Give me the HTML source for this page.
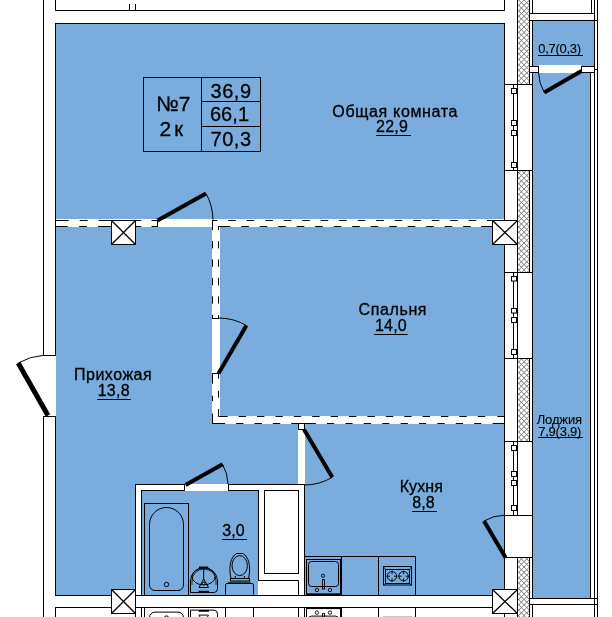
<!DOCTYPE html>
<html><head><meta charset="utf-8">
<style>
html,body{margin:0;padding:0;background:#fff;}
body{width:612px;height:617px;overflow:hidden;position:relative;font-family:"Liberation Sans",sans-serif;}
svg{position:absolute;left:0;top:0;will-change:transform;} text{font-family:"Liberation Sans",sans-serif;fill:#000;stroke:#000;}

</style></head><body>
<svg width="612" height="617" viewBox="0 0 612 617" shape-rendering="auto">
<rect x="0" y="0" width="612" height="617" fill="#fff"/>
<rect x="55.5" y="23.5" width="449" height="572" fill="#7aadde" stroke="#000" stroke-width="1"/>
<rect x="532.5" y="20.5" width="62" height="46" fill="#7aadde" stroke="#000" stroke-width="1"/>
<rect x="532.5" y="72.5" width="58" height="526" fill="#7aadde" stroke="#000" stroke-width="1"/>
<rect x="44" y="356" width="12" height="60" fill="#fff"/>
<clipPath id="hc"><rect x="517.5" y="0" width="12" height="84"/><rect x="517.5" y="170" width="12" height="102"/><rect x="517.5" y="358" width="12" height="83"/><rect x="517.5" y="558" width="12" height="59"/></clipPath>
<path clip-path="url(#hc)" d="M517,624.7 L530,637.7 M517,619.3 L530,632.3 M517,613.9 L530,626.9 M517,608.5 L530,621.5 M517,603.1 L530,616.1 M517,597.7 L530,610.7 M517,592.3 L530,605.3 M517,586.9 L530,599.9 M517,581.5 L530,594.5 M517,576.1 L530,589.1 M517,570.7 L530,583.7 M517,565.3 L530,578.3 M517,559.9 L530,572.9 M517,554.5 L530,567.5 M517,549.1 L530,562.1 M517,543.7 L530,556.7 M517,538.3 L530,551.3 M517,532.9 L530,545.9 M517,527.5 L530,540.5 M517,522.1 L530,535.1 M517,516.7 L530,529.7 M517,511.3 L530,524.3 M517,505.9 L530,518.9 M517,500.5 L530,513.5 M517,495.1 L530,508.1 M517,489.7 L530,502.7 M517,484.3 L530,497.3 M517,478.9 L530,491.9 M517,473.5 L530,486.5 M517,468.1 L530,481.1 M517,462.7 L530,475.7 M517,457.3 L530,470.3 M517,451.9 L530,464.9 M517,446.5 L530,459.5 M517,441.1 L530,454.1 M517,435.7 L530,448.7 M517,430.3 L530,443.3 M517,424.9 L530,437.9 M517,419.5 L530,432.5 M517,414.1 L530,427.1 M517,408.7 L530,421.7 M517,403.3 L530,416.3 M517,397.9 L530,410.9 M517,392.5 L530,405.5 M517,387.09999999999997 L530,400.09999999999997 M517,381.7 L530,394.7 M517,376.29999999999995 L530,389.29999999999995 M517,370.9 L530,383.9 M517,365.5 L530,378.5 M517,360.09999999999997 L530,373.09999999999997 M517,354.7 L530,367.7 M517,349.29999999999995 L530,362.29999999999995 M517,343.9 L530,356.9 M517,338.5 L530,351.5 M517,333.09999999999997 L530,346.09999999999997 M517,327.7 L530,340.7 M517,322.29999999999995 L530,335.29999999999995 M517,316.9 L530,329.9 M517,311.5 L530,324.5 M517,306.09999999999997 L530,319.09999999999997 M517,300.7 L530,313.7 M517,295.29999999999995 L530,308.29999999999995 M517,289.9 L530,302.9 M517,284.5 L530,297.5 M517,279.09999999999997 L530,292.09999999999997 M517,273.69999999999993 L530,286.69999999999993 M517,268.29999999999995 L530,281.29999999999995 M517,262.9 L530,275.9 M517,257.49999999999994 L530,270.49999999999994 M517,252.09999999999997 L530,265.09999999999997 M517,246.7 L530,259.7 M517,241.29999999999995 L530,254.29999999999995 M517,235.89999999999998 L530,248.89999999999998 M517,230.49999999999994 L530,243.49999999999994 M517,225.09999999999997 L530,238.09999999999997 M517,219.7 L530,232.7 M517,214.29999999999995 L530,227.29999999999995 M517,208.89999999999998 L530,221.89999999999998 M517,203.49999999999994 L530,216.49999999999994 M517,198.09999999999997 L530,211.09999999999997 M517,192.7 L530,205.7 M517,187.29999999999995 L530,200.29999999999995 M517,181.89999999999998 L530,194.89999999999998 M517,176.49999999999994 L530,189.49999999999994 M517,171.09999999999997 L530,184.09999999999997 M517,165.7 L530,178.7 M517,160.29999999999995 L530,173.29999999999995 M517,154.89999999999998 L530,167.89999999999998 M517,149.49999999999994 L530,162.49999999999994 M517,144.09999999999997 L530,157.09999999999997 M517,138.7 L530,151.7 M517,133.29999999999995 L530,146.29999999999995 M517,127.89999999999998 L530,140.89999999999998 M517,122.49999999999994 L530,135.49999999999994 M517,117.09999999999997 L530,130.09999999999997 M517,111.69999999999999 L530,124.69999999999999 M517,106.29999999999995 L530,119.29999999999995 M517,100.89999999999998 L530,113.89999999999998 M517,95.49999999999994 L530,108.49999999999994 M517,90.09999999999997 L530,103.09999999999997 M517,84.69999999999999 L530,97.69999999999999 M517,79.29999999999995 L530,92.29999999999995 M517,73.89999999999998 L530,86.89999999999998 M517,68.49999999999994 L530,81.49999999999994 M517,63.099999999999966 L530,76.09999999999997 M517,57.69999999999993 L530,70.69999999999993 M517,52.299999999999955 L530,65.29999999999995 M517,46.89999999999998 L530,59.89999999999998 M517,41.49999999999994 L530,54.49999999999994 M517,36.099999999999966 L530,49.099999999999966 M517,30.699999999999932 L530,43.69999999999993 M517,25.299999999999955 L530,38.299999999999955 M517,19.899999999999977 L530,32.89999999999998 M517,14.499999999999943 L530,27.499999999999943 M517,9.099999999999966 L530,22.099999999999966 M517,3.7000000000000455 L530,16.700000000000045 M517,-1.7000000000000455 L530,11.299999999999955 M517,-7.100000000000023 L530,5.899999999999977 M517,-12.5 L530,0.5 M517,-17.899999999999977 L530,-4.899999999999977 M517,-9.099999999999966 L530,-22.099999999999966 M517,-3.7000000000000455 L530,-16.700000000000045 M517,1.7000000000000455 L530,-11.299999999999955 M517,7.100000000000023 L530,-5.899999999999977 M517,12.5 L530,-0.5 M517,17.899999999999977 L530,4.899999999999977 M517,23.299999999999955 L530,10.299999999999955 M517,28.700000000000045 L530,15.700000000000045 M517,34.10000000000002 L530,21.100000000000023 M517,39.5 L530,26.5 M517,44.89999999999998 L530,31.899999999999977 M517,50.299999999999955 L530,37.299999999999955 M517,55.700000000000045 L530,42.700000000000045 M517,61.10000000000002 L530,48.10000000000002 M517,66.5 L530,53.5 M517,71.89999999999998 L530,58.89999999999998 M517,77.29999999999995 L530,64.29999999999995 M517,82.70000000000005 L530,69.70000000000005 M517,88.10000000000002 L530,75.10000000000002 M517,93.5 L530,80.5 M517,98.89999999999998 L530,85.89999999999998 M517,104.29999999999995 L530,91.29999999999995 M517,109.70000000000005 L530,96.70000000000005 M517,115.10000000000002 L530,102.10000000000002 M517,120.5 L530,107.5 M517,125.89999999999998 L530,112.89999999999998 M517,131.29999999999995 L530,118.29999999999995 M517,136.70000000000005 L530,123.70000000000005 M517,142.10000000000002 L530,129.10000000000002 M517,147.5 L530,134.5 M517,152.89999999999998 L530,139.89999999999998 M517,158.29999999999995 L530,145.29999999999995 M517,163.70000000000005 L530,150.70000000000005 M517,169.10000000000002 L530,156.10000000000002 M517,174.5 L530,161.5 M517,179.89999999999998 L530,166.89999999999998 M517,185.29999999999995 L530,172.29999999999995 M517,190.70000000000005 L530,177.70000000000005 M517,196.10000000000002 L530,183.10000000000002 M517,201.5 L530,188.5 M517,206.89999999999998 L530,193.89999999999998 M517,212.29999999999995 L530,199.29999999999995 M517,217.70000000000005 L530,204.70000000000005 M517,223.10000000000002 L530,210.10000000000002 M517,228.5 L530,215.5 M517,233.89999999999998 L530,220.89999999999998 M517,239.29999999999995 L530,226.29999999999995 M517,244.70000000000005 L530,231.70000000000005 M517,250.10000000000002 L530,237.10000000000002 M517,255.5 L530,242.5 M517,260.9 L530,247.89999999999998 M517,266.29999999999995 L530,253.29999999999995 M517,271.70000000000005 L530,258.70000000000005 M517,277.1 L530,264.1 M517,282.5 L530,269.5 M517,287.9 L530,274.9 M517,293.29999999999995 L530,280.29999999999995 M517,298.70000000000005 L530,285.70000000000005 M517,304.1 L530,291.1 M517,309.5 L530,296.5 M517,314.9 L530,301.9 M517,320.29999999999995 L530,307.29999999999995 M517,325.70000000000005 L530,312.70000000000005 M517,331.1 L530,318.1 M517,336.5 L530,323.5 M517,341.9 L530,328.9 M517,347.29999999999995 L530,334.29999999999995 M517,352.70000000000005 L530,339.70000000000005 M517,358.1 L530,345.1 M517,363.5 L530,350.5 M517,368.9 L530,355.9 M517,374.30000000000007 L530,361.30000000000007 M517,379.70000000000005 L530,366.70000000000005 M517,385.1 L530,372.1 M517,390.5 L530,377.5 M517,395.9 L530,382.9 M517,401.30000000000007 L530,388.30000000000007 M517,406.70000000000005 L530,393.70000000000005 M517,412.1 L530,399.1 M517,417.5 L530,404.5 M517,422.9 L530,409.9 M517,428.30000000000007 L530,415.30000000000007 M517,433.70000000000005 L530,420.70000000000005 M517,439.1 L530,426.1 M517,444.5 L530,431.5 M517,449.9 L530,436.9 M517,455.30000000000007 L530,442.30000000000007 M517,460.70000000000005 L530,447.70000000000005 M517,466.1 L530,453.1 M517,471.5 L530,458.5 M517,476.9 L530,463.9 M517,482.30000000000007 L530,469.30000000000007 M517,487.70000000000005 L530,474.70000000000005 M517,493.1 L530,480.1 M517,498.5 L530,485.5 M517,503.9 L530,490.9 M517,509.29999999999995 L530,496.29999999999995 M517,514.7 L530,501.70000000000005 M517,520.1000000000001 L530,507.10000000000014 M517,525.5 L530,512.5 M517,530.9000000000001 L530,517.9000000000001 M517,536.3 L530,523.3 M517,541.7 L530,528.7 M517,547.1000000000001 L530,534.1000000000001 M517,552.5 L530,539.5 M517,557.9000000000001 L530,544.9000000000001 M517,563.3 L530,550.3 M517,568.7 L530,555.7 M517,574.1000000000001 L530,561.1000000000001 M517,579.5 L530,566.5 M517,584.9000000000001 L530,571.9000000000001 M517,590.3 L530,577.3 M517,595.7 L530,582.7 M517,601.1000000000001 L530,588.1000000000001 M517,606.5 L530,593.5 M517,611.9000000000001 L530,598.9000000000001 M517,617.3 L530,604.3 M517,622.7 L530,609.7 M517,628.1000000000001 L530,615.1000000000001 M517,633.5 L530,620.5 M517,638.9000000000001 L530,625.9000000000001" stroke="#7a7a7a" stroke-width="1" fill="none"/>
<line x1="517.5" y1="0" x2="517.5" y2="84" stroke="#000" stroke-width="1" />
<line x1="529.5" y1="0" x2="529.5" y2="84" stroke="#000" stroke-width="1" />
<line x1="517.5" y1="170" x2="517.5" y2="272" stroke="#000" stroke-width="1" />
<line x1="529.5" y1="170" x2="529.5" y2="272" stroke="#000" stroke-width="1" />
<line x1="517.5" y1="358" x2="517.5" y2="441" stroke="#000" stroke-width="1" />
<line x1="529.5" y1="358" x2="529.5" y2="441" stroke="#000" stroke-width="1" />
<line x1="517.5" y1="558" x2="517.5" y2="617" stroke="#000" stroke-width="1" />
<line x1="529.5" y1="558" x2="529.5" y2="617" stroke="#000" stroke-width="1" />
<polyline points="55.5,0 55.5,10.5 504.5,10.5 504.5,0" fill="none" stroke="#000" stroke-width="1"/>
<line x1="129.5" y1="4" x2="129.5" y2="10.5" stroke="#000" stroke-width="1" />
<line x1="135.5" y1="4" x2="135.5" y2="10.5" stroke="#000" stroke-width="1" />
<line x1="43.5" y1="0" x2="43.5" y2="355.5" stroke="#000" stroke-width="1" />
<line x1="43.5" y1="416" x2="43.5" y2="617" stroke="#000" stroke-width="1" />
<line x1="55.5" y1="0" x2="55.5" y2="10.5" stroke="#000" stroke-width="1" />
<line x1="55.5" y1="416" x2="55.5" y2="595.5" stroke="#000" stroke-width="1" />
<line x1="55.5" y1="607.5" x2="55.5" y2="617" stroke="#000" stroke-width="1" />
<rect x="44" y="356" width="11" height="60" fill="#fff"/>
<line x1="43" y1="355.5" x2="56" y2="355.5" stroke="#000" stroke-width="1" />
<line x1="43" y1="416.5" x2="56" y2="416.5" stroke="#000" stroke-width="1" />
<line x1="55.5" y1="23" x2="55.5" y2="355.5" stroke="#000" stroke-width="1" />
<line x1="504.5" y1="0" x2="504.5" y2="10.5" stroke="#000" stroke-width="1" />
<line x1="532.5" y1="0" x2="532.5" y2="13.5" stroke="#000" stroke-width="1" />
<line x1="529.5" y1="0" x2="529.5" y2="13.5" stroke="#000" stroke-width="1" />
<line x1="591.5" y1="0" x2="591.5" y2="13.5" stroke="#000" stroke-width="1" />
<line x1="594.5" y1="0" x2="594.5" y2="66" stroke="#000" stroke-width="1" />
<line x1="597.5" y1="0" x2="597.5" y2="617" stroke="#000" stroke-width="1" />
<line x1="529.5" y1="13.5" x2="594.5" y2="13.5" stroke="#000" stroke-width="1" />
<line x1="529.5" y1="20.5" x2="597.5" y2="20.5" stroke="#000" stroke-width="1" />
<line x1="594.5" y1="72" x2="594.5" y2="617" stroke="#000" stroke-width="1" />
<rect x="538.5" y="65" width="43" height="8" fill="#fff"/>
<rect x="529.5" y="66.5" width="9" height="6" fill="#fff" stroke="#000" stroke-width="1" />
<rect x="581.5" y="66.5" width="13" height="6" fill="#fff" stroke="#000" stroke-width="1" />
<line x1="594.5" y1="69.5" x2="597.5" y2="69.5" stroke="#000" stroke-width="1" />
<line x1="581.5" y1="71" x2="544.2" y2="92.4" stroke="#000" stroke-width="4" stroke-linecap="butt"/>
<path d="M544.2,92.4 A43.00,43.00 0 0 1 538.52,72.51" fill="none" stroke="#000" stroke-width="1"/>
<rect x="504.5" y="84.5" width="28" height="86.0" fill="#fff" stroke="#000" stroke-width="1" />
<line x1="513.5" y1="84.5" x2="513.5" y2="170.5" stroke="#000" stroke-width="1" />
<line x1="517.5" y1="84.5" x2="517.5" y2="170.5" stroke="#000" stroke-width="1" />
<rect x="511.5" y="88.5" width="5" height="5.0" fill="#fff" stroke="#000" stroke-width="1" />
<rect x="511.5" y="120.5" width="5" height="5.0" fill="#fff" stroke="#000" stroke-width="1" />
<rect x="511.5" y="130.5" width="5" height="5.0" fill="#fff" stroke="#000" stroke-width="1" />
<rect x="511.5" y="162.5" width="5" height="5.0" fill="#fff" stroke="#000" stroke-width="1" />
<rect x="504.5" y="272.5" width="28" height="86.0" fill="#fff" stroke="#000" stroke-width="1" />
<line x1="513.5" y1="272.5" x2="513.5" y2="358.5" stroke="#000" stroke-width="1" />
<line x1="517.5" y1="272.5" x2="517.5" y2="358.5" stroke="#000" stroke-width="1" />
<rect x="511.5" y="276.5" width="5" height="4.5" fill="#fff" stroke="#000" stroke-width="1" />
<rect x="511.5" y="308.5" width="5" height="4.5" fill="#fff" stroke="#000" stroke-width="1" />
<rect x="511.5" y="317.5" width="5" height="5.0" fill="#fff" stroke="#000" stroke-width="1" />
<rect x="511.5" y="349.5" width="5" height="5.0" fill="#fff" stroke="#000" stroke-width="1" />
<rect x="504.5" y="441.5" width="28" height="74.0" fill="#fff" stroke="#000" stroke-width="1" />
<line x1="513.5" y1="441.5" x2="513.5" y2="515.5" stroke="#000" stroke-width="1" />
<line x1="517.5" y1="441.5" x2="517.5" y2="515.5" stroke="#000" stroke-width="1" />
<rect x="511.5" y="445.5" width="5" height="5.0" fill="#fff" stroke="#000" stroke-width="1" />
<rect x="511.5" y="471.5" width="5" height="5.0" fill="#fff" stroke="#000" stroke-width="1" />
<rect x="511.5" y="480.5" width="5" height="5.0" fill="#fff" stroke="#000" stroke-width="1" />
<rect x="511.5" y="505.5" width="5" height="5.0" fill="#fff" stroke="#000" stroke-width="1" />
<rect x="504.5" y="515.5" width="28" height="42" fill="#fff" stroke="#000" stroke-width="1" />
<line x1="505.5" y1="557.5" x2="484" y2="521" stroke="#000" stroke-width="4" stroke-linecap="butt"/>
<path d="M484,521 A42.36,42.36 0 0 1 504.49,515.15" fill="none" stroke="#000" stroke-width="1"/>
<rect x="529.5" y="598.5" width="65" height="6" fill="#fff" stroke="#000" stroke-width="1"/>
<line x1="594.5" y1="598.5" x2="597.5" y2="598.5" stroke="#000" stroke-width="1" />
<line x1="594.5" y1="604.5" x2="597.5" y2="604.5" stroke="#000" stroke-width="1" />
<line x1="532.5" y1="604.5" x2="532.5" y2="617" stroke="#000" stroke-width="1" />
<rect x="56" y="219" width="448" height="8" fill="#fff"/>
<rect x="212" y="219" width="8" height="205" fill="#fff"/>
<rect x="212" y="416" width="292" height="8" fill="#fff"/>
<line x1="55.5" y1="220.5" x2="68.7" y2="220.5" stroke="#000" stroke-width="1" />
<line x1="79.7" y1="220.5" x2="87.6" y2="220.5" stroke="#000" stroke-width="1" />
<line x1="98.5" y1="220.5" x2="111" y2="220.5" stroke="#000" stroke-width="1" />
<line x1="55.5" y1="226.5" x2="67.7" y2="226.5" stroke="#000" stroke-width="1" />
<line x1="79.2" y1="226.5" x2="87" y2="226.5" stroke="#000" stroke-width="1" />
<line x1="98" y1="226.5" x2="111" y2="226.5" stroke="#000" stroke-width="1" />
<line x1="135.5" y1="220.5" x2="141.3" y2="220.5" stroke="#000" stroke-width="1" />
<line x1="151.5" y1="220.5" x2="158" y2="220.5" stroke="#000" stroke-width="1" />
<line x1="135.5" y1="226.5" x2="141.3" y2="226.5" stroke="#000" stroke-width="1" />
<line x1="151.5" y1="226.5" x2="158" y2="226.5" stroke="#000" stroke-width="1" />
<line x1="157.5" y1="220" x2="157.5" y2="227" stroke="#000" stroke-width="1" />
<line x1="212" y1="220.5" x2="217" y2="220.5" stroke="#000" stroke-width="1" />
<line x1="212" y1="220.5" x2="217.29999999999998" y2="220.5" stroke="#000" stroke-width="1" />
<line x1="228.2" y1="220.5" x2="235.79999999999998" y2="220.5" stroke="#000" stroke-width="1" />
<line x1="246.7" y1="220.5" x2="254.29999999999998" y2="220.5" stroke="#000" stroke-width="1" />
<line x1="265.2" y1="220.5" x2="272.8" y2="220.5" stroke="#000" stroke-width="1" />
<line x1="283.7" y1="220.5" x2="291.3" y2="220.5" stroke="#000" stroke-width="1" />
<line x1="302.2" y1="220.5" x2="309.8" y2="220.5" stroke="#000" stroke-width="1" />
<line x1="320.7" y1="220.5" x2="328.3" y2="220.5" stroke="#000" stroke-width="1" />
<line x1="339.2" y1="220.5" x2="346.8" y2="220.5" stroke="#000" stroke-width="1" />
<line x1="357.7" y1="220.5" x2="365.3" y2="220.5" stroke="#000" stroke-width="1" />
<line x1="376.2" y1="220.5" x2="383.8" y2="220.5" stroke="#000" stroke-width="1" />
<line x1="394.7" y1="220.5" x2="402.3" y2="220.5" stroke="#000" stroke-width="1" />
<line x1="413.2" y1="220.5" x2="420.8" y2="220.5" stroke="#000" stroke-width="1" />
<line x1="431.7" y1="220.5" x2="439.3" y2="220.5" stroke="#000" stroke-width="1" />
<line x1="450.2" y1="220.5" x2="457.8" y2="220.5" stroke="#000" stroke-width="1" />
<line x1="468.7" y1="220.5" x2="476.3" y2="220.5" stroke="#000" stroke-width="1" />
<line x1="487" y1="220.5" x2="493" y2="220.5" stroke="#000" stroke-width="1" />
<line x1="218.5" y1="226.5" x2="229.7" y2="226.5" stroke="#000" stroke-width="1" />
<line x1="222.7" y1="226.5" x2="230.29999999999998" y2="226.5" stroke="#000" stroke-width="1" />
<line x1="241.2" y1="226.5" x2="248.79999999999998" y2="226.5" stroke="#000" stroke-width="1" />
<line x1="259.7" y1="226.5" x2="267.3" y2="226.5" stroke="#000" stroke-width="1" />
<line x1="278.2" y1="226.5" x2="285.8" y2="226.5" stroke="#000" stroke-width="1" />
<line x1="296.7" y1="226.5" x2="304.3" y2="226.5" stroke="#000" stroke-width="1" />
<line x1="315.2" y1="226.5" x2="322.8" y2="226.5" stroke="#000" stroke-width="1" />
<line x1="333.7" y1="226.5" x2="341.3" y2="226.5" stroke="#000" stroke-width="1" />
<line x1="352.2" y1="226.5" x2="359.8" y2="226.5" stroke="#000" stroke-width="1" />
<line x1="370.7" y1="226.5" x2="378.3" y2="226.5" stroke="#000" stroke-width="1" />
<line x1="389.2" y1="226.5" x2="396.8" y2="226.5" stroke="#000" stroke-width="1" />
<line x1="407.7" y1="226.5" x2="415.3" y2="226.5" stroke="#000" stroke-width="1" />
<line x1="426.2" y1="226.5" x2="433.8" y2="226.5" stroke="#000" stroke-width="1" />
<line x1="444.7" y1="226.5" x2="452.3" y2="226.5" stroke="#000" stroke-width="1" />
<line x1="463.2" y1="226.5" x2="470.8" y2="226.5" stroke="#000" stroke-width="1" />
<line x1="481" y1="226.5" x2="493" y2="226.5" stroke="#000" stroke-width="1" />
<line x1="212.5" y1="220" x2="212.5" y2="229.5" stroke="#000" stroke-width="1" />
<line x1="212.5" y1="222.7" x2="212.5" y2="230.0" stroke="#000" stroke-width="1" />
<line x1="212.5" y1="241.1" x2="212.5" y2="248.4" stroke="#000" stroke-width="1" />
<line x1="212.5" y1="259.5" x2="212.5" y2="266.8" stroke="#000" stroke-width="1" />
<line x1="212.5" y1="277.9" x2="212.5" y2="285.2" stroke="#000" stroke-width="1" />
<line x1="212.5" y1="296.3" x2="212.5" y2="303.6" stroke="#000" stroke-width="1" />
<line x1="212.5" y1="315" x2="212.5" y2="318.5" stroke="#000" stroke-width="1" />
<line x1="218.5" y1="226.5" x2="218.5" y2="229.6" stroke="#000" stroke-width="1" />
<line x1="218.5" y1="226.5" x2="218.5" y2="230.0" stroke="#000" stroke-width="1" />
<line x1="218.5" y1="241.1" x2="218.5" y2="248.4" stroke="#000" stroke-width="1" />
<line x1="218.5" y1="259.5" x2="218.5" y2="266.8" stroke="#000" stroke-width="1" />
<line x1="218.5" y1="277.9" x2="218.5" y2="285.2" stroke="#000" stroke-width="1" />
<line x1="218.5" y1="296.3" x2="218.5" y2="303.6" stroke="#000" stroke-width="1" />
<line x1="218.5" y1="315" x2="218.5" y2="318.5" stroke="#000" stroke-width="1" />
<line x1="212" y1="318.5" x2="219" y2="318.5" stroke="#000" stroke-width="1" />
<line x1="212" y1="373.5" x2="219" y2="373.5" stroke="#000" stroke-width="1" />
<line x1="212.5" y1="373.5" x2="212.5" y2="383.6" stroke="#000" stroke-width="1" />
<line x1="212.5" y1="395.7" x2="212.5" y2="401.1" stroke="#000" stroke-width="1" />
<line x1="212.5" y1="413.7" x2="212.5" y2="424" stroke="#000" stroke-width="1" />
<line x1="218.5" y1="373.5" x2="218.5" y2="378.7" stroke="#000" stroke-width="1" />
<line x1="218.5" y1="390.9" x2="218.5" y2="397.7" stroke="#000" stroke-width="1" />
<line x1="218.5" y1="408.9" x2="218.5" y2="416.5" stroke="#000" stroke-width="1" />
<line x1="218.5" y1="416.5" x2="226.6" y2="416.5" stroke="#000" stroke-width="1" />
<line x1="220.2" y1="416.5" x2="227.6" y2="416.5" stroke="#000" stroke-width="1" />
<line x1="238.6" y1="416.5" x2="246.0" y2="416.5" stroke="#000" stroke-width="1" />
<line x1="257.0" y1="416.5" x2="264.4" y2="416.5" stroke="#000" stroke-width="1" />
<line x1="275.4" y1="416.5" x2="282.79999999999995" y2="416.5" stroke="#000" stroke-width="1" />
<line x1="293.8" y1="416.5" x2="301.2" y2="416.5" stroke="#000" stroke-width="1" />
<line x1="312.2" y1="416.5" x2="319.59999999999997" y2="416.5" stroke="#000" stroke-width="1" />
<line x1="330.6" y1="416.5" x2="338.0" y2="416.5" stroke="#000" stroke-width="1" />
<line x1="349.0" y1="416.5" x2="356.4" y2="416.5" stroke="#000" stroke-width="1" />
<line x1="367.4" y1="416.5" x2="374.79999999999995" y2="416.5" stroke="#000" stroke-width="1" />
<line x1="385.79999999999995" y1="416.5" x2="393.19999999999993" y2="416.5" stroke="#000" stroke-width="1" />
<line x1="404.2" y1="416.5" x2="411.59999999999997" y2="416.5" stroke="#000" stroke-width="1" />
<line x1="422.6" y1="416.5" x2="430.0" y2="416.5" stroke="#000" stroke-width="1" />
<line x1="441.0" y1="416.5" x2="448.4" y2="416.5" stroke="#000" stroke-width="1" />
<line x1="459.4" y1="416.5" x2="466.79999999999995" y2="416.5" stroke="#000" stroke-width="1" />
<line x1="477.79999999999995" y1="416.5" x2="485.19999999999993" y2="416.5" stroke="#000" stroke-width="1" />
<line x1="497.3" y1="416.5" x2="504" y2="416.5" stroke="#000" stroke-width="1" />
<line x1="212" y1="423.5" x2="224.7" y2="423.5" stroke="#000" stroke-width="1" />
<line x1="217.7" y1="423.5" x2="225.1" y2="423.5" stroke="#000" stroke-width="1" />
<line x1="236.1" y1="423.5" x2="243.5" y2="423.5" stroke="#000" stroke-width="1" />
<line x1="254.5" y1="423.5" x2="261.9" y2="423.5" stroke="#000" stroke-width="1" />
<line x1="272.9" y1="423.5" x2="280.29999999999995" y2="423.5" stroke="#000" stroke-width="1" />
<line x1="291.3" y1="423.5" x2="298.5" y2="423.5" stroke="#000" stroke-width="1" />
<line x1="304.5" y1="423.5" x2="315.5" y2="423.5" stroke="#000" stroke-width="1" />
<line x1="308.6" y1="423.5" x2="315.8" y2="423.5" stroke="#000" stroke-width="1" />
<line x1="327.0" y1="423.5" x2="334.2" y2="423.5" stroke="#000" stroke-width="1" />
<line x1="345.4" y1="423.5" x2="352.59999999999997" y2="423.5" stroke="#000" stroke-width="1" />
<line x1="363.8" y1="423.5" x2="371.0" y2="423.5" stroke="#000" stroke-width="1" />
<line x1="382.2" y1="423.5" x2="389.4" y2="423.5" stroke="#000" stroke-width="1" />
<line x1="400.6" y1="423.5" x2="407.8" y2="423.5" stroke="#000" stroke-width="1" />
<line x1="419.0" y1="423.5" x2="426.2" y2="423.5" stroke="#000" stroke-width="1" />
<line x1="437.4" y1="423.5" x2="444.59999999999997" y2="423.5" stroke="#000" stroke-width="1" />
<line x1="455.79999999999995" y1="423.5" x2="462.99999999999994" y2="423.5" stroke="#000" stroke-width="1" />
<line x1="474.2" y1="423.5" x2="481.4" y2="423.5" stroke="#000" stroke-width="1" />
<line x1="492.6" y1="423.5" x2="504" y2="423.5" stroke="#000" stroke-width="1" />
<rect x="111.5" y="220.5" width="24" height="24" fill="#fff" stroke="#000" stroke-width="1" />
<line x1="111.5" y1="220.5" x2="135.5" y2="244.5" stroke="#000" stroke-width="1.3" />
<line x1="135.5" y1="220.5" x2="111.5" y2="244.5" stroke="#000" stroke-width="1.3" />
<rect x="492.5" y="220.5" width="25" height="24" fill="#fff" stroke="#000" stroke-width="1" />
<line x1="492.5" y1="220.5" x2="517.5" y2="244.5" stroke="#000" stroke-width="1.3" />
<line x1="517.5" y1="220.5" x2="492.5" y2="244.5" stroke="#000" stroke-width="1.3" />
<line x1="48" y1="415.5" x2="18.2" y2="363" stroke="#000" stroke-width="5" stroke-linecap="butt"/>
<path d="M18.2,363 A60.37,60.37 0 0 1 43.5,355.3" fill="none" stroke="#000" stroke-width="1"/>
<line x1="157.5" y1="220.5" x2="206" y2="193.5" stroke="#000" stroke-width="4" stroke-linecap="butt"/>
<path d="M206,193.5 A55.51,55.51 0 0 1 213.0,219.49" fill="none" stroke="#000" stroke-width="1"/>
<line x1="218.5" y1="373.5" x2="246.4" y2="325.5" stroke="#000" stroke-width="4" stroke-linecap="butt"/>
<path d="M246.4,325.5 A55.52,55.52 0 0 0 219.0,317.98" fill="none" stroke="#000" stroke-width="1"/>
<rect x="135.5" y="484.5" width="169" height="111" fill="#fff" stroke="#000" stroke-width="1"/>
<rect x="141.5" y="490.5" width="117" height="105" fill="#7aadde" stroke="#000" stroke-width="1"/>
<rect x="185" y="484" width="43" height="7" fill="#fff"/>
<line x1="184.5" y1="484" x2="184.5" y2="491" stroke="#000" stroke-width="1" />
<line x1="228.5" y1="484" x2="228.5" y2="491" stroke="#000" stroke-width="1" />
<line x1="185.5" y1="485" x2="222.6" y2="464.3" stroke="#000" stroke-width="4" stroke-linecap="butt"/>
<path d="M222.6,464.3 A42.48,42.48 0 0 1 227.97,484.01" fill="none" stroke="#000" stroke-width="1"/>
<rect x="264.5" y="490.5" width="34" height="83" fill="#fff" stroke="#000" stroke-width="1" />
<rect x="258" y="581" width="40" height="14" fill="#fff"/>
<line x1="258" y1="580.5" x2="298.5" y2="580.5" stroke="#000" stroke-width="1" />
<line x1="298.5" y1="580.5" x2="298.5" y2="595.5" stroke="#000" stroke-width="1" />
<rect x="298" y="424" width="7" height="60" fill="#fff"/>
<rect x="298.5" y="423.5" width="6" height="6" fill="#fff" stroke="#000" stroke-width="1" />
<line x1="304" y1="429.5" x2="332.3" y2="477.3" stroke="#000" stroke-width="4" stroke-linecap="butt"/>
<path d="M332.3,477.3 A55.55,55.55 0 0 1 304.51,485.05" fill="none" stroke="#000" stroke-width="1"/>
<rect x="144.5" y="503.5" width="44" height="92" fill="none" stroke="#000" stroke-width="1"/>
<path d="M149.5,524.5 A17,17 0 0 1 183.5,524.5 L183.5,585 A5.5,5.5 0 0 1 178,590.5 L155,590.5 A5.5,5.5 0 0 1 149.5,585 Z" fill="none" stroke="#000" stroke-width="1"/>
<circle cx="166.5" cy="584.5" r="2.2" fill="none" stroke="#000" stroke-width="1"/>
<path d="M190.5,592.5 L190.5,581 A13.5,13.5 0 0 1 217.5,581 L217.5,588.5 Q217.5,592.5 214,592.5 Z" fill="none" stroke="#000" stroke-width="1"/>
<path d="M192,585 L192,581 A12,12 0 0 1 216,581 L216,585" fill="none" stroke="#000" stroke-width="0.8"/>
<path d="M199,567.3 L208.2,567.3" stroke="#000" stroke-width="1.5"/>
<ellipse cx="203.6" cy="576.6" rx="11.6" ry="8.3" fill="none" stroke="#000" stroke-width="1"/>
<path d="M203.7,567.5 L203.7,579" stroke="#000" stroke-width="1"/>
<path d="M203.7,579 L208.5,587.5 L199,587.5 Z" fill="none" stroke="#000" stroke-width="1" stroke-linejoin="round"/>
<circle cx="203.6" cy="583.4" r="1.3" fill="none" stroke="#000" stroke-width="0.9"/>
<path d="M198.5,591.7 L209,591.7" stroke="#000" stroke-width="1.8"/>
<path d="M225.5,594.5 L225.5,585 Q225.5,583.5 227,583.5 L252,583.5 Q253.5,583.5 253.5,585 L253.5,594.5" fill="none" stroke="#000" stroke-width="1"/>
<rect x="230.5" y="578.5" width="19" height="2.5" fill="none" stroke="#000" stroke-width="1"/>
<path d="M228,582.3 L251,582.3" stroke="#000" stroke-width="0.8"/>
<path d="M231,578.5 C229,570 229.5,560 234.5,555 L236.5,553.5 L243,553.5 L245,555 C250,560 250.5,570 248.5,578.5" fill="none" stroke="#000" stroke-width="1"/>
<ellipse cx="239.7" cy="565.6" rx="7.7" ry="10" fill="none" stroke="#000" stroke-width="1"/>
<path d="M235.3,576 L235.3,578.5 M244.5,576 L244.5,578.5" stroke="#000" stroke-width="1"/>
<path d="M305,556.5 L415.5,556.5 M341.5,556.5 L341.5,595.5 M378.5,556.5 L378.5,595.5 M415.5,556.5 L415.5,595.5" stroke="#000" stroke-width="1"/>
<rect x="306.5" y="559.5" width="34" height="34.5" fill="none" stroke="#000" stroke-width="1"/>
<path d="M306.5,594.3 L340.5,594.3" stroke="#000" stroke-width="1.2"/>
<rect x="308.5" y="561.5" width="30" height="25" rx="3" fill="none" stroke="#000" stroke-width="1"/>
<circle cx="323" cy="575.8" r="1.6" fill="none" stroke="#000" stroke-width="0.9"/>
<rect x="322.5" y="579.5" width="2" height="9.5" fill="none" stroke="#000" stroke-width="0.9"/>
<circle cx="316.9" cy="590" r="1.7" fill="none" stroke="#000" stroke-width="0.9"/>
<circle cx="330" cy="590" r="1.7" fill="none" stroke="#000" stroke-width="0.9"/>
<rect x="383.5" y="566.5" width="28" height="18.5" fill="none" stroke="#000" stroke-width="1"/>
<rect x="385.5" y="569.5" width="24" height="14" fill="none" stroke="#000" stroke-width="1"/>
<path d="M383.5,566.5 L385.5,569.5 M411.5,566.5 L409.5,569.5 M383.5,585 L385.5,583.5 M411.5,585 L409.5,583.5" stroke="#000" stroke-width="0.7"/>
<circle cx="392" cy="576.2" r="4.7" fill="none" stroke="#000" stroke-width="1"/>
<path d="M386.5,576.2 L390,576.2 M394,576.2 L397.5,576.2 M392,570.7 L392,574.2 M392,578.2 L392,581.7" stroke="#000" stroke-width="0.9"/>
<circle cx="403.6" cy="576.2" r="4.7" fill="none" stroke="#000" stroke-width="1"/>
<path d="M398.1,576.2 L401.6,576.2 M405.6,576.2 L409.1,576.2 M403.6,570.7 L403.6,574.2 M403.6,578.2 L403.6,581.7" stroke="#000" stroke-width="0.9"/>
<clipPath id="cb"><rect x="0" y="607.5" width="612" height="20"/></clipPath>
<g clip-path="url(#cb)"><g transform="translate(0,1202.6) scale(1,-1)">
<rect x="144.5" y="503.5" width="44" height="92" fill="none" stroke="#000" stroke-width="1"/>
<path d="M149.5,524.5 A17,17 0 0 1 183.5,524.5 L183.5,585 A5.5,5.5 0 0 1 178,590.5 L155,590.5 A5.5,5.5 0 0 1 149.5,585 Z" fill="none" stroke="#000" stroke-width="1"/>
<circle cx="166.5" cy="584.5" r="2.2" fill="none" stroke="#000" stroke-width="1"/>
<path d="M190.5,592.5 L190.5,581 A13.5,13.5 0 0 1 217.5,581 L217.5,588.5 Q217.5,592.5 214,592.5 Z" fill="none" stroke="#000" stroke-width="1"/>
<path d="M192,585 L192,581 A12,12 0 0 1 216,581 L216,585" fill="none" stroke="#000" stroke-width="0.8"/>
<path d="M199,567.3 L208.2,567.3" stroke="#000" stroke-width="1.5"/>
<ellipse cx="203.6" cy="576.6" rx="11.6" ry="8.3" fill="none" stroke="#000" stroke-width="1"/>
<path d="M203.7,567.5 L203.7,579" stroke="#000" stroke-width="1"/>
<path d="M203.7,579 L208.5,587.5 L199,587.5 Z" fill="none" stroke="#000" stroke-width="1" stroke-linejoin="round"/>
<circle cx="203.6" cy="583.4" r="1.3" fill="none" stroke="#000" stroke-width="0.9"/>
<path d="M198.5,591.7 L209,591.7" stroke="#000" stroke-width="1.8"/>
<path d="M225.5,594.5 L225.5,585 Q225.5,583.5 227,583.5 L252,583.5 Q253.5,583.5 253.5,585 L253.5,594.5" fill="none" stroke="#000" stroke-width="1"/>
<rect x="230.5" y="578.5" width="19" height="2.5" fill="none" stroke="#000" stroke-width="1"/>
<path d="M228,582.3 L251,582.3" stroke="#000" stroke-width="0.8"/>
<path d="M231,578.5 C229,570 229.5,560 234.5,555 L236.5,553.5 L243,553.5 L245,555 C250,560 250.5,570 248.5,578.5" fill="none" stroke="#000" stroke-width="1"/>
<ellipse cx="239.7" cy="565.6" rx="7.7" ry="10" fill="none" stroke="#000" stroke-width="1"/>
<path d="M235.3,576 L235.3,578.5 M244.5,576 L244.5,578.5" stroke="#000" stroke-width="1"/>
<path d="M305,556.5 L415.5,556.5 M341.5,556.5 L341.5,595.5 M378.5,556.5 L378.5,595.5 M415.5,556.5 L415.5,595.5" stroke="#000" stroke-width="1"/>
<rect x="306.5" y="559.5" width="34" height="34.5" fill="none" stroke="#000" stroke-width="1"/>
<path d="M306.5,594.3 L340.5,594.3" stroke="#000" stroke-width="1.2"/>
<rect x="308.5" y="561.5" width="30" height="25" rx="3" fill="none" stroke="#000" stroke-width="1"/>
<circle cx="323" cy="575.8" r="1.6" fill="none" stroke="#000" stroke-width="0.9"/>
<rect x="322.5" y="579.5" width="2" height="9.5" fill="none" stroke="#000" stroke-width="0.9"/>
<circle cx="316.9" cy="590" r="1.7" fill="none" stroke="#000" stroke-width="0.9"/>
<circle cx="330" cy="590" r="1.7" fill="none" stroke="#000" stroke-width="0.9"/>
<rect x="383.5" y="566.5" width="28" height="18.5" fill="none" stroke="#000" stroke-width="1"/>
<rect x="385.5" y="569.5" width="24" height="14" fill="none" stroke="#000" stroke-width="1"/>
<path d="M383.5,566.5 L385.5,569.5 M411.5,566.5 L409.5,569.5 M383.5,585 L385.5,583.5 M411.5,585 L409.5,583.5" stroke="#000" stroke-width="0.7"/>
<circle cx="392" cy="576.2" r="4.7" fill="none" stroke="#000" stroke-width="1"/>
<path d="M386.5,576.2 L390,576.2 M394,576.2 L397.5,576.2 M392,570.7 L392,574.2 M392,578.2 L392,581.7" stroke="#000" stroke-width="0.9"/>
<circle cx="403.6" cy="576.2" r="4.7" fill="none" stroke="#000" stroke-width="1"/>
<path d="M398.1,576.2 L401.6,576.2 M405.6,576.2 L409.1,576.2 M403.6,570.7 L403.6,574.2 M403.6,578.2 L403.6,581.7" stroke="#000" stroke-width="0.9"/>
<path d="M141.5,590 L141.5,596" stroke="#000"/>
</g></g>
<line x1="135.5" y1="613" x2="135.5" y2="617" stroke="#000" stroke-width="1" />
<line x1="141.5" y1="607.5" x2="141.5" y2="617" stroke="#000" stroke-width="1" />
<line x1="298.5" y1="607.5" x2="298.5" y2="617" stroke="#000" stroke-width="1" />
<line x1="304.5" y1="607.5" x2="304.5" y2="617" stroke="#000" stroke-width="1" />
<line x1="55.5" y1="607.5" x2="55.5" y2="617" stroke="#000" stroke-width="1" />
<line x1="504.5" y1="613" x2="504.5" y2="617" stroke="#000" stroke-width="1" />
<line x1="383" y1="616.5" x2="412" y2="616.5" stroke="#c8c8c8" stroke-width="1" />
<rect x="56" y="596" width="461" height="11" fill="#fff"/>
<line x1="55.5" y1="595.5" x2="517" y2="595.5" stroke="#000" stroke-width="1" />
<line x1="55.5" y1="607.5" x2="517" y2="607.5" stroke="#000" stroke-width="1" />
<rect x="111.5" y="589.5" width="24" height="24" fill="#fff" stroke="#000" stroke-width="1" />
<line x1="111.5" y1="589.5" x2="135.5" y2="613.5" stroke="#000" stroke-width="1.3" />
<line x1="135.5" y1="589.5" x2="111.5" y2="613.5" stroke="#000" stroke-width="1.3" />
<rect x="492.5" y="589.5" width="25" height="24" fill="#fff" stroke="#000" stroke-width="1" />
<line x1="492.5" y1="589.5" x2="517.5" y2="613.5" stroke="#000" stroke-width="1.3" />
<line x1="517.5" y1="589.5" x2="492.5" y2="613.5" stroke="#000" stroke-width="1.3" />
<rect x="143.5" y="77.5" width="117" height="74" fill="none" stroke="#000" stroke-width="1" />
<line x1="201.5" y1="77.5" x2="201.5" y2="151.5" stroke="#000" stroke-width="1" />
<line x1="201.5" y1="101.5" x2="260.5" y2="101.5" stroke="#000" stroke-width="1" />
<line x1="201.5" y1="126.5" x2="260.5" y2="126.5" stroke="#000" stroke-width="1" />
<text x="156.2" y="111" font-size="21" letter-spacing="0" stroke-width="0.3">№7</text>
<text x="159.6" y="136" font-size="21" letter-spacing="0" stroke-width="0.3">2</text>
<text x="174.3" y="136" font-size="20" letter-spacing="0" stroke-width="0.3">к</text>
<text x="210.6" y="97.7" font-size="20" letter-spacing="0.5" stroke-width="0.3">36,9</text>
<text x="209.9" y="121.3" font-size="20" letter-spacing="0.1" stroke-width="0.3">66,1</text>
<text x="210.6" y="146" font-size="20" letter-spacing="0.5" stroke-width="0.3">70,3</text>
<text x="332.3" y="117" font-size="16" letter-spacing="0.66" stroke-width="0.3">Общая комната</text>
<text x="376" y="131.7" font-size="16" letter-spacing="0.27" stroke-width="0.3">22,9</text>
<line x1="376" y1="135.5" x2="411" y2="135.5" stroke="#000" stroke-width="1" />
<text x="358.5" y="315.3" font-size="16" letter-spacing="0.62" stroke-width="0.3">Спальня</text>
<text x="375" y="330.7" font-size="16" letter-spacing="0.2" stroke-width="0.3">14,0</text>
<line x1="374.3" y1="334.5" x2="407.6" y2="334.5" stroke="#000" stroke-width="1" />
<text x="74" y="379.9" font-size="16" letter-spacing="0.5" stroke-width="0.3">Прихожая</text>
<text x="97.7" y="395.6" font-size="16" letter-spacing="0.27" stroke-width="0.3">13,8</text>
<line x1="97.2" y1="399.5" x2="130.8" y2="399.5" stroke="#000" stroke-width="1" />
<text x="399.7" y="492.3" font-size="16" letter-spacing="0.1" stroke-width="0.3">Кухня</text>
<text x="412.3" y="508.3" font-size="16" letter-spacing="0" stroke-width="0.3">8,8</text>
<line x1="412" y1="511.5" x2="436.9" y2="511.5" stroke="#000" stroke-width="1" />
<text x="222.2" y="535.9" font-size="16" letter-spacing="0.1" stroke-width="0.3">3,0</text>
<line x1="222.2" y1="539.5" x2="247" y2="539.5" stroke="#000" stroke-width="1" />
<text x="536.7" y="423.7" font-size="13" letter-spacing="-0.14" stroke-width="0.1">Лоджия</text>
<text x="538.3" y="435.5" font-size="13" letter-spacing="-0.26" stroke-width="0.1">7,9(3,9)</text>
<line x1="538" y1="437.5" x2="583" y2="437.5" stroke="#000" stroke-width="1" />
<text x="538.3" y="52.5" font-size="13" letter-spacing="-0.3" stroke-width="0.1">0,7(0,3)</text>
<line x1="538" y1="55.5" x2="583" y2="55.5" stroke="#000" stroke-width="1" />
</svg>
</body></html>
